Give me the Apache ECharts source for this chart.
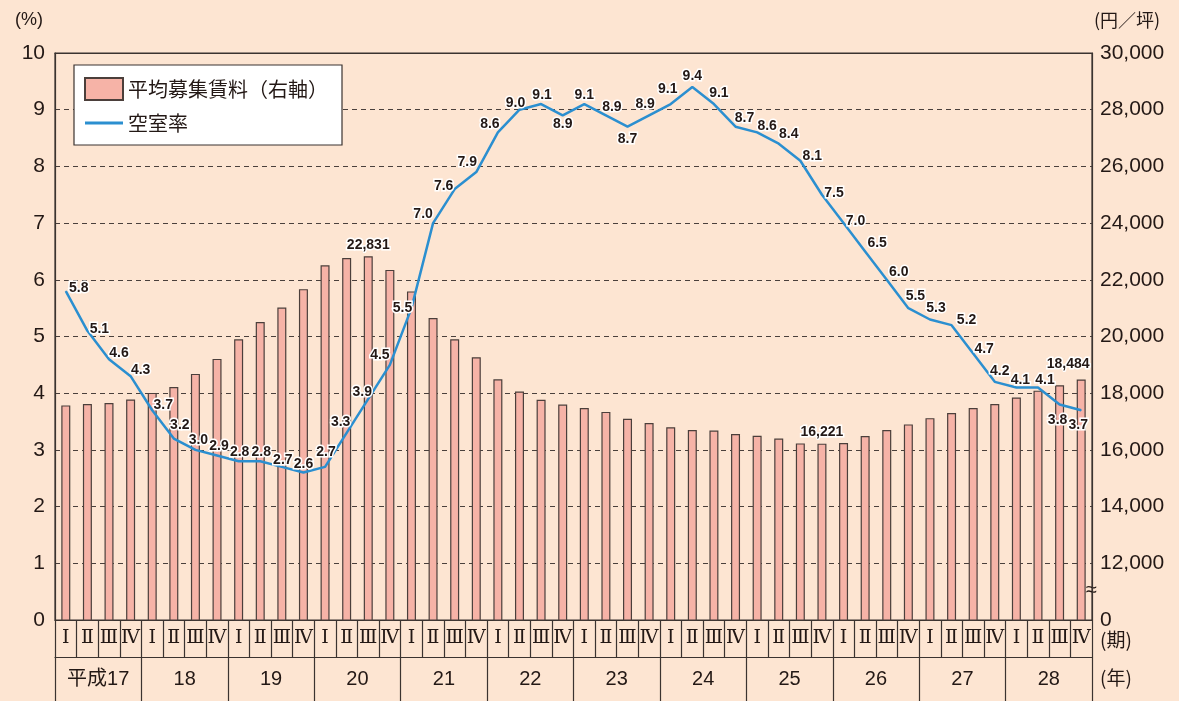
<!DOCTYPE html>
<html>
<head>
<meta charset="UTF-8">
<title>空室率と平均募集賃料</title>
<style>
html, body { margin: 0; padding: 0; background: #fde5d2; }
#main { width: 1179px; height: 701px; }
</style>
</head>
<body>
<div id="main"></div>
<script src="https://cdn.jsdelivr.net/npm/echarts@6/dist/echarts.min.js"></script>
<script>
// 年・期
var years = ['平成17', '18', '19', '20', '21', '22', '23', '24', '25', '26', '27', '28'];
var quarterNames = ['Ⅰ', 'Ⅱ', 'Ⅲ', 'Ⅳ'];

// 平均募集賃料（円／坪, 右軸）
var rent = [
  17570, 17620, 17650, 17780,
  18010, 18220, 18680, 19210,
  19900, 20510, 21020, 21670,
  22510, 22770, 22831, 22350,
  21590, 20650, 19900, 19270,
  18490, 18060, 17770, 17600,
  17480, 17340, 17100, 16950,
  16800, 16700, 16680, 16560,
  16500, 16400, 16230, 16221,
  16240, 16490, 16700, 16900,
  17120, 17300, 17480, 17620,
  17850, 18090, 18280, 18484
];

// 空室率（%）
var vacancy = [
  5.8, 5.1, 4.6, 4.3,
  3.7, 3.2, 3.0, 2.9,
  2.8, 2.8, 2.7, 2.6,
  2.7, 3.3, 3.9, 4.5,
  5.5, 7.0, 7.6, 7.9,
  8.6, 9.0, 9.1, 8.9,
  9.1, 8.9, 8.7, 8.9,
  9.1, 9.4, 9.1, 8.7,
  8.6, 8.4, 8.1, 7.5,
  7.0, 6.5, 6.0, 5.5,
  5.3, 5.2, 4.7, 4.2,
  4.1, 4.1, 3.8, 3.7
];

// 数値ラベルを付ける賃料の期
var labeledRent = [14, 35, 47];

// 空室率ラベルのずらし量（見た目の調整用）
var vacancyLabelShift = [
  [13, -3], [12, -2], [10, -6], [10, -6],
  [11, -5], [6, -13], [3, -10], [2, -9],
  [1, -9], [1, -9], [1, -7], [0, -8],
  [1, -15], [-6, -11], [-6, -7], [-10, -10],
  [-9, 0], [-10, -9], [-11, -3], [-9, -10],
  [-8, -8], [-4, -7], [1, -9], [0, 9],
  [0, -9], [6, -8], [0, 12], [-4, -11],
  [-3, -15], [0, -11], [5, -11], [9, -9],
  [10, -6], [10, -10], [12, -5], [12, -2],
  [12, -2], [12, -8], [12, -8], [7, -12],
  [6, -11], [15, -5], [11, -4], [5, -11],
  [4, -7], [7, -7], [-2, 16], [-3, 15]
];

var quarters = [];
years.forEach(function () {
  quarterNames.forEach(function (q) { quarters.push(q); });
});

var ink = '#231815';
var lineInk = '#3b3330';
var numFont = "'Liberation Sans', 'Noto Sans CJK JP', sans-serif";
var jpFont = "'Noto Sans CJK JP', sans-serif";
var haloLabel = {
  color: ink,
  fontSize: 14,
  fontWeight: 'bold',
  fontFamily: numFont,
  textBorderColor: '#ffffff',
  textBorderWidth: 3
};

var rentData = rent.map(function (v, i) {
  if (labeledRent.indexOf(i) < 0) return v;
  return {
    value: v,
    label: {
      show: true,
      position: 'top',
      distance: 4,
      offset: i === rent.length - 1 ? [-13, -4] : [0, 0],
      formatter: function (p) { return p.value.toLocaleString('en-US'); }
    }
  };
});

var vacancyData = vacancy.map(function (v, i) {
  return {
    value: v,
    label: { offset: vacancyLabelShift[i] }
  };
});

var myChart = echarts.init(document.getElementById('main'));

myChart.setOption({
  backgroundColor: '#fde5d2',
  animation: false,
  textStyle: { fontFamily: numFont, color: ink },
  grid: {
    left: 55, right: 87, top: 53, bottom: 81,
    show: true,
    borderColor: lineInk,
    borderWidth: 1.2,
    backgroundColor: 'transparent'
  },
  legend: {
    left: 74, top: 65,
    orient: 'vertical',
    backgroundColor: '#ffffff',
    borderColor: lineInk,
    borderWidth: 1.2,
    padding: [12, 14, 12, 10],
    itemGap: 12,
    itemWidth: 38,
    itemHeight: 22,
    textStyle: { fontSize: 20, color: ink, fontFamily: jpFont },
    data: [
      { name: '平均募集賃料（右軸）', icon: 'rect' },
      { name: '空室率', icon: 'path://M0,0H38V3H0Z' }
    ]
  },
  xAxis: [
    {
      type: 'category',
      data: quarters,
      position: 'bottom',
      name: '(期)',
      nameLocation: 'end',
      nameGap: 8,
      nameMoveOverlap: false,
      nameTextStyle: { fontSize: 19, color: ink, verticalAlign: 'top', padding: [10, 0, 0, 0], fontFamily: jpFont },
      axisLine: { show: true, lineStyle: { color: lineInk, width: 1.2 } },
      axisTick: { show: true, interval: 0, length: 37, lineStyle: { color: lineInk, width: 1.2 } },
      axisLabel: { interval: 0, margin: 9, fontSize: 19, color: ink, fontFamily: "'DejaVu Serif', 'Noto Sans CJK JP', serif" },
      splitLine: { show: false }
    },
    {
      type: 'category',
      data: years,
      position: 'bottom',
      offset: 37,
      name: '(年)',
      nameLocation: 'end',
      nameGap: 8,
      nameMoveOverlap: false,
      nameTextStyle: { fontSize: 19, color: ink, verticalAlign: 'top', padding: [11, 0, 0, 0], fontFamily: jpFont },
      axisLine: { show: true, lineStyle: { color: lineInk, width: 1.2 } },
      axisTick: { show: true, interval: 0, length: 44, lineStyle: { color: lineInk, width: 1.2 } },
      axisLabel: { interval: 0, margin: 12, fontSize: 20, color: ink },
      splitLine: { show: false }
    },
    {
      // 上枠の実線
      type: 'category',
      data: years,
      position: 'top',
      axisLine: { show: true, lineStyle: { color: lineInk, width: 1.2 } },
      axisTick: { show: false },
      axisLabel: { show: false },
      splitLine: { show: false }
    }
  ],
  yAxis: [
    {
      type: 'value',
      min: 0, max: 10, interval: 1,
      name: '(%)',
      nameLocation: 'end',
      nameGap: 24,
      nameTextStyle: { fontSize: 18, color: ink, align: 'right', padding: [0, 12, 0, 0] },
      axisLine: { show: true, lineStyle: { color: lineInk, width: 1.2 } },
      axisTick: { show: false },
      axisLabel: { margin: 10, fontSize: 21, color: ink },
      splitLine: { show: true, lineStyle: { color: '#4a403c', width: 1.2, type: [5, 4] } }
    },
    {
      type: 'value',
      min: 10000, max: 30000, interval: 2000,
      name: '(円／坪)',
      nameLocation: 'end',
      nameGap: 24,
      nameTextStyle: { fontSize: 18, color: ink, align: 'left', padding: [0, 0, 0, 2], fontFamily: jpFont },
      axisLine: { show: true, lineStyle: { color: lineInk, width: 1.2 } },
      axisTick: { show: false },
      axisLabel: {
        margin: 8, fontSize: 21, color: ink,
        formatter: function (v) { return v === 10000 ? '0' : v.toLocaleString('en-US'); }
      },
      splitLine: { show: false }
    }
  ],
  graphic: [
    {
      type: 'text',
      left: 1086, top: 580,
      style: { text: '≈', fontSize: 20, fill: ink, fontFamily: numFont }
    }
  ],
  series: [
    {
      name: '平均募集賃料（右軸）',
      type: 'bar',
      xAxisIndex: 0,
      yAxisIndex: 1,
      barWidth: 9,
      data: rentData,
      itemStyle: { color: '#f6b3a7', borderColor: '#4b3f3b', borderWidth: 1.2 },
      label: haloLabel
    },
    {
      name: '空室率',
      type: 'line',
      xAxisIndex: 0,
      yAxisIndex: 0,
      data: vacancyData,
      symbol: 'circle',
      symbolSize: 1,
      itemStyle: { color: '#2b8fd0' },
      lineStyle: { color: '#2b8fd0', width: 2.5 },
      label: Object.assign({ show: true, position: 'inside', formatter: function (p) { return p.value.toFixed(1); } }, haloLabel),
      z: 5
    }
  ]
});
window.onresize = function () { myChart.resize(); };
</script>
</body>
</html>
